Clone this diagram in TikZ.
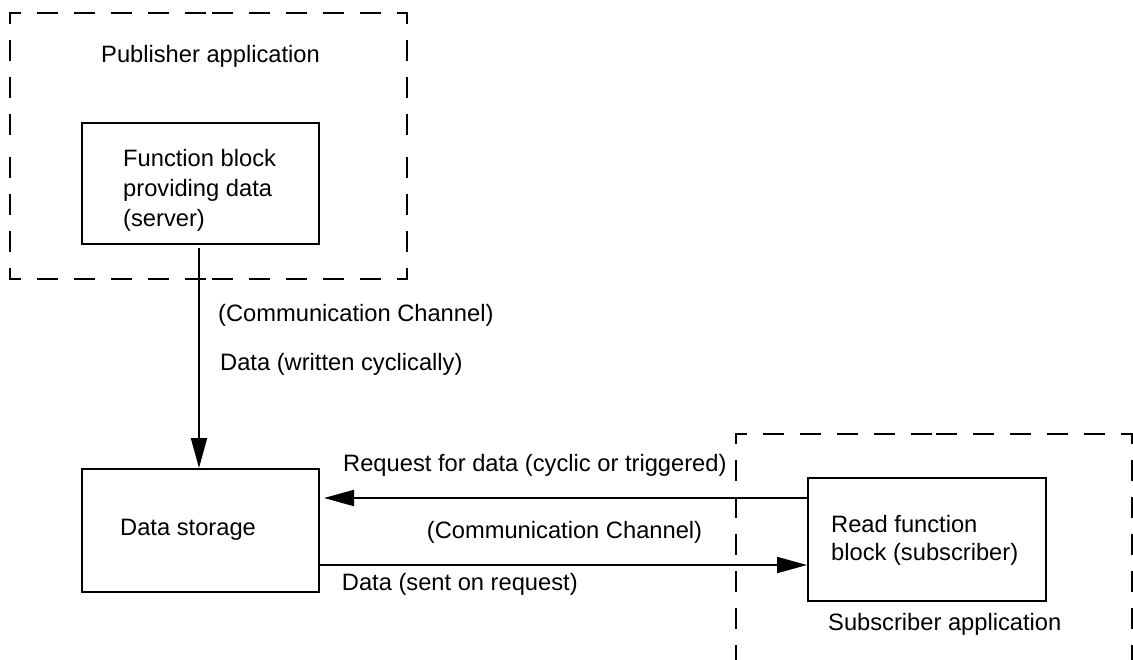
\documentclass[tikz,border=0pt]{standalone}
\usepackage{fontspec}
\setmainfont{Liberation Sans}
\usetikzlibrary{arrows.meta,calc}
\tikzset{
  box/.style={draw, line width=2pt, rectangle, inner sep=0pt},
  lbl/.style={anchor=base west, inner sep=0pt, font=\fontsize{23.7}{30}\selectfont},
  dashedge/.style={line width=2pt, dash pattern=on 19pt off 18pt, dash phase=9.5pt, line cap=rect},
  arr/.style={line width=2pt, -{Triangle[length=30pt,width=16pt]}}
}
\begin{document}
\begin{tikzpicture}[x=1pt,y=-1pt]
\useasboundingbox (0,0) rectangle (1133,659);
% dashed application boundaries
\coordinate (pTL) at (10,13);
\coordinate (pTR) at (407,13);
\coordinate (pBR) at (407,278.5);
\coordinate (pBL) at (10,278.5);
\foreach \a/\b in {pTL/pTR, pTR/pBR, pBR/pBL, pBL/pTL} {
  \draw[dashedge] (\a) -- ($(\a)!0.5!(\b)$);
  \draw[dashedge] (\b) -- ($(\a)!0.5!(\b)$);
}
\coordinate (sTL) at (736,433.5);
\coordinate (sTR) at (1131.5,433.5);
\coordinate (sBL) at (736,670);
\coordinate (sBR) at (1131.5,670);
\draw[dashedge] (sTL) -- ($(sTL)!0.5!(sTR)$);
\draw[dashedge] (sTR) -- ($(sTL)!0.5!(sTR)$);
\draw[dashedge] (sTL) -- (sBL);
\draw[dashedge] (sTR) -- (sBR);
% boxes
\node[box, minimum width=237pt, minimum height=121pt] (fb) at (200.5,183) {};
\node[box, minimum width=237pt, minimum height=123pt] (ds) at (200.5,530.5) {};
\node[box, minimum width=238pt, minimum height=123pt] (rf) at (927,539.5) {};
% texts
\node[lbl] (tpub) at (101,62.5) {Publisher application};
\node[lbl] (tfb1) at (123,166) {Function block};
\node[lbl] (tfb2) at (123,196) {providing data};
\node[lbl] (tfb3) at (123,226) {(server)};
\node[lbl] (tcc1) at (218,321) {(Communication Channel)};
\node[lbl] (tdw) at (220,370) {Data (written cyclically)};
\node[lbl] (treq) at (343,471.7) {Request for data (cyclic or triggered)};
\node[lbl] (tcc2) at (426.7,538) {(Communication Channel)};
\node[lbl] (tds) at (341.7,590.7) {Data (sent on request)};
\node[lbl] (tstore) at (120,535) {Data storage};
\node[lbl] (trf1) at (831,532) {Read function};
\node[lbl] (trf2) at (831,560) {block (subscriber)};
\node[lbl] (tsub) at (828,630) {Subscriber application};
% connectors
\draw[arr] ([xshift=-1.5pt,yshift=-3pt]fb.south) -- ([xshift=-1.5pt]ds.north);
\draw[arr] ([yshift=41.5pt]rf.west) -- ([xshift=4pt,yshift=32.5pt]ds.east);
\draw[arr] ([yshift=-34.5pt]ds.east) -- ([yshift=-25.5pt]rf.west);
\end{tikzpicture}
\end{document}
